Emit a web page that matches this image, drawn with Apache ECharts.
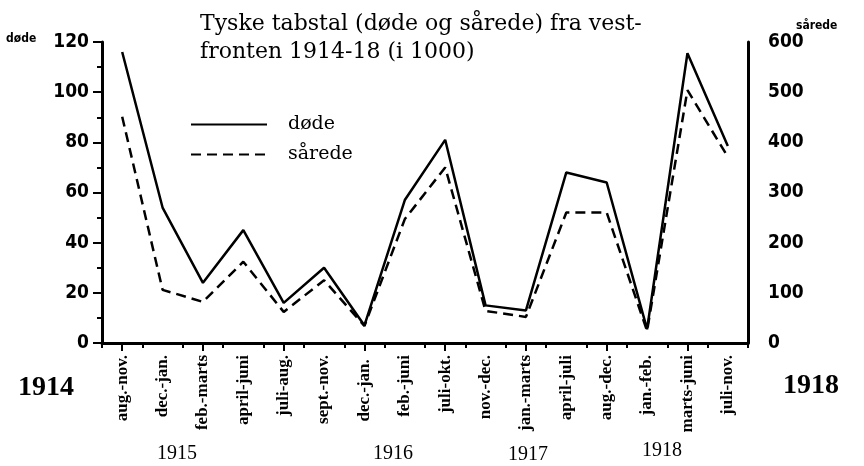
<!DOCTYPE html>
<html>
<head>
<meta charset="utf-8">
<script src="https://cdn.jsdelivr.net/npm/echarts@6/dist/echarts.min.js"></script>
<style>
  html, body { margin: 0; padding: 0; background: #fff; }
  #chart { width: 864px; height: 466px; }
</style>
</head>
<body>
<div id="chart"></div>
<script>
"use strict";
// data (thousands)
const categories = [
  "aug.-nov.", "dec.-jan.", "feb.-marts", "april-juni", "juli-aug.", "sept.-nov.",
  "dec.-jan. ", "feb.-juni", "juli-okt.", "nov.-dec.", "jan.-marts", "april-juli",
  "aug.-dec.", "jan.-feb.", "marts-juni", "juli-nov."
];
const dode = [116, 54, 24, 45, 16, 30, 7, 57, 81, 15, 13, 68, 64, 5.5, 115.5, 78.5];
const sarede = [451, 106, 82, 162, 62, 125, 34, 247, 350, 64, 52, 260, 260, 24, 504, 371];
const leftTicks = { min: 0, max: 120, interval: 20 };
const rightTicks = { min: 0, max: 600, interval: 100 };

const serif = "'Liberation Serif', 'DejaVu Serif', serif";
const wideSerif = "'DejaVu Serif', 'Liberation Serif', serif";
const narrow = "'Liberation Sans Narrow', 'DejaVu Sans Condensed', sans-serif";

const chart = echarts.init(document.getElementById("chart"));
const option = {
  backgroundColor: "#fff",
  animation: false,
  title: {
    text: "Tyske tabstal (døde og sårede) fra vest-\nfronten 1914-18 (i 1000)",
    left: 195,
    top: 5,
    textStyle: {
      fontFamily: wideSerif,
      fontSize: 22,
      fontWeight: "normal",
      color: "#000",
      lineHeight: 28,
    },
  },
  legend: {
    orient: "vertical",
    left: 185,
    top: 110,
    itemWidth: 76,
    itemHeight: 14,
    itemGap: 11,
    itemStyle: { opacity: 0 },
    textStyle: {
      fontFamily: wideSerif,
      fontSize: 19,
      color: "#000",
      padding: [0, 0, 0, 16],
    },
    data: ["døde", "sårede"],
  },
  grid: { left: 102, right: 116, top: 42, bottom: 123 },
  xAxis: [
    {
      type: "category",
      data: categories,
      boundaryGap: true,
      axisLine: { lineStyle: { color: "#000", width: 3 } },
      axisTick: { show: true, length: 5, lineStyle: { color: "#000", width: 2 } },
      axisLabel: {
        rotate: 90,
        interval: 0,
        margin: 12,
        fontFamily: serif,
        fontWeight: "bold",
        fontSize: 17,
        color: "#000",
      },
      splitLine: { show: false },
    },
    {
      type: "category",
      data: categories,
      position: "bottom",
      boundaryGap: true,
      axisLine: { show: false },
      axisTick: { show: true, alignWithLabel: true, length: 8, lineStyle: { color: "#000", width: 2 } },
      axisLabel: { show: false },
      splitLine: { show: false },
    },
  ],
  yAxis: [
    {
      type: "value",
      min: leftTicks.min,
      max: leftTicks.max,
      interval: leftTicks.interval,
      axisLine: { show: true, lineStyle: { color: "#000", width: 3 } },
      axisTick: { show: true, length: 9, lineStyle: { color: "#000", width: 2 } },
      minorTick: { show: true, splitNumber: 2, length: 5, lineStyle: { color: "#000", width: 2 } },
      axisLabel: { fontFamily: narrow, fontWeight: "bold", fontSize: 19, color: "#000", margin: 13 },
      splitLine: { show: false },
    },
    {
      type: "value",
      min: rightTicks.min,
      max: rightTicks.max,
      interval: rightTicks.interval,
      position: "right",
      axisLine: { show: true, lineStyle: { color: "#000", width: 3 } },
      axisTick: { show: false },
      axisLabel: { fontFamily: narrow, fontWeight: "bold", fontSize: 19, color: "#000", margin: 20 },
      splitLine: { show: false },
    },
  ],
  graphic: [
    { type: "text", left: 6, top: 33, style: { text: "døde", font: "bold 12px " + narrow, fill: "#000" } },
    { type: "text", left: 796, top: 20, style: { text: "sårede", font: "bold 12px " + narrow, fill: "#000" } },
    { type: "text", left: 18, top: 374, style: { text: "1914", font: "bold 28px " + serif, fill: "#000" } },
    { type: "text", left: 783, top: 372, style: { text: "1918", font: "bold 28px " + serif, fill: "#000" } },
    { type: "text", left: 157, top: 444, style: { text: "1915", font: "20px " + serif, fill: "#000" } },
    { type: "text", left: 373, top: 444, style: { text: "1916", font: "20px " + serif, fill: "#000" } },
    { type: "text", left: 508, top: 445, style: { text: "1917", font: "20px " + serif, fill: "#000" } },
    { type: "text", left: 642, top: 441, style: { text: "1918", font: "20px " + serif, fill: "#000" } },
  ],
  series: [
    {
      name: "døde",
      type: "line",
      yAxisIndex: 0,
      data: dode,
      symbol: "none",
      lineStyle: { color: "#000", width: 2.5, type: "solid" },
      itemStyle: { color: "#000" },
    },
    {
      name: "sårede",
      type: "line",
      yAxisIndex: 1,
      data: sarede,
      symbol: "none",
      lineStyle: { color: "#000", width: 2.5, type: [10, 6] },
      itemStyle: { color: "#000" },
    },
  ],
};
chart.setOption(option);
</script>
</body>
</html>
